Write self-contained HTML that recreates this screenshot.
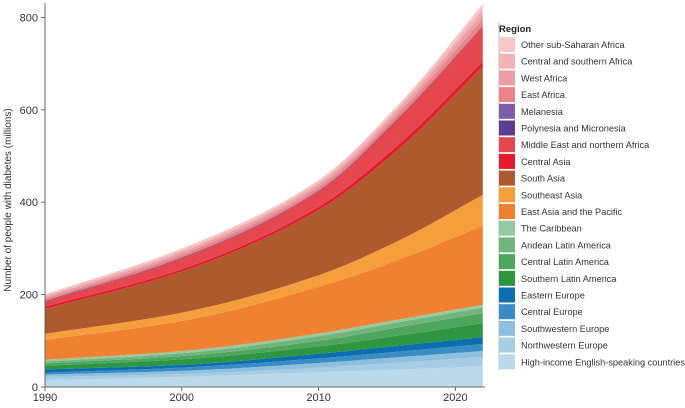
<!DOCTYPE html>
<html><head><meta charset="utf-8"><style>
body{margin:0;background:#fff;font-family:"Liberation Sans",sans-serif;}
svg text{font-family:"Liberation Sans",sans-serif;}
</style></head><body>
<svg id="chart" width="685" height="403" viewBox="0 0 685 403">
<g id="areas"></g>
<g id="axes"></g>
<g id="legend"></g>
</svg>
<script>
const years = [1990, 2000, 2010, 2016, 2022];
const seriesNames = ["High-income English-speaking countries","Northwestern Europe","Southwestern Europe","Central Europe","Eastern Europe","Southern Latin America","Central Latin America","Andean Latin America","The Caribbean","East Asia and the Pacific","Southeast Asia","South Asia","Central Asia","Middle East and northern Africa","Polynesia and Micronesia","Melanesia","East Africa","West Africa","Central and southern Africa","Other sub-Saharan Africa"];
const seriesColors = ["#bcd9ea","#a6cde4","#8ec0de","#3b8cc3","#0b6eaf","#2e9541","#4ea55e","#72b57c","#97c9a0","#f08130","#f59f3c","#ac5a2e","#e31b2c","#e5474f","#5a3d8f","#7b5ea7","#e98488","#ec9fa2","#f1b3b4","#f6c9c9"];
const vHighIncome = [15,22,32,38,45];
const vNWEurope = [7,6,10,15,20];
const vSWEurope = [5,7,10,12,13];
const vCEurope = [4,7,10,12,15];
const vEEurope = [7,6,10,13,15];
const vSLatAm = [8,12,16,22,30];
const vCLatAm = [5,7,12,18,22];
const vAndean = [4,6,10,11,12];
const vCaribbean = [4,5,6,6,6];
const vEastAsia = [43,65,101,130,171];
const vSEAsia = [13,18,25,42,67];
const vSouthAsia = [54,89,141,200,278];
const vCentralAsia = [5,5,7,10,10];
const vMENA = [11,24,34,58,76];
const vPolynesia = [1,1,1,1,1];
const vMelanesia = [1,1,1,1,1];
const vEastAfrica = [4,6,7,9,14];
const vWestAfrica = [4,5,6,8,13];
const vCSAfrica = [3,4,5,6,10];
const vOtherSSA = [3,4,4,5,10];
const seriesValues = [vHighIncome,vNWEurope,vSWEurope,vCEurope,vEEurope,vSLatAm,vCLatAm,vAndean,vCaribbean,vEastAsia,vSEAsia,vSouthAsia,vCentralAsia,vMENA,vPolynesia,vMelanesia,vEastAfrica,vWestAfrica,vCSAfrica,vOtherSSA];
const yTicks = [0,200,400,600,800];
const xTicks = [1990,2000,2010,2020];

const NS="http://www.w3.org/2000/svg";
const x0=45, y0=387;
function xScale(yr){return x0+(yr-1990)*13.68;}
function yScale(v){return y0-v*0.462;}

function monotone(xs, ys){
  const n=xs.length, d=[], m=new Array(n);
  for(let i=0;i<n-1;i++) d.push((ys[i+1]-ys[i])/(xs[i+1]-xs[i]));
  m[0]=d[0]; m[n-1]=d[n-2];
  for(let i=1;i<n-1;i++){ if(d[i-1]*d[i]<=0) m[i]=0; else { const h0=xs[i]-xs[i-1],h1=xs[i+1]-xs[i]; m[i]=3*(h0+h1)/((2*h1+h0)/d[i-1]+(h1+2*h0)/d[i]); } }
  return function(x){
    let i=0; while(i<n-2 && x>xs[i+1]) i++;
    const h=xs[i+1]-xs[i], t=(x-xs[i])/h;
    const h00=2*t*t*t-3*t*t+1,h10=t*t*t-2*t*t+t,h01=-2*t*t*t+3*t*t,h11=t*t*t-t*t;
    return h00*ys[i]+h10*h*m[i]+h01*ys[i+1]+h11*h*m[i+1];
  };
}

const areas=document.getElementById('areas');
let cum=years.map(()=>0);
const samples=[]; for(let y=1990;y<=2022.0001;y+=0.5) samples.push(y);
for(let s=0;s<seriesValues.length;s++){
  const lower=cum.slice();
  const upper=cum.map((c,i)=>c+seriesValues[s][i]);
  const fl=monotone(years,lower), fu=monotone(years,upper);
  let d="";
  samples.forEach((yr,i)=>{d+=(i?"L":"M")+xScale(yr).toFixed(2)+","+yScale(fu(yr)).toFixed(2);});
  for(let i=samples.length-1;i>=0;i--){const yr=samples[i]; d+="L"+xScale(yr).toFixed(2)+","+yScale(fl(yr)).toFixed(2);}
  d+="Z";
  const p=document.createElementNS(NS,'path');
  p.setAttribute('d',d); p.setAttribute('fill',seriesColors[s]);
  
  
  areas.appendChild(p);
  cum=upper;
}

const axes=document.getElementById('axes');
function mk(tag,attrs,text){const e=document.createElementNS(NS,tag);for(const k in attrs)e.setAttribute(k,attrs[k]);if(text!==undefined)e.textContent=text;axes.appendChild(e);return e;}
let e;
e=mk('line',{x1:x0,y1:3,x2:x0,y2:y0,stroke:'#666','stroke-width':1});


e=mk('line',{x1:x0,y1:y0,x2:485,y2:y0,stroke:'#666','stroke-width':1});


yTicks.forEach(v=>{
  const y=yScale(v);
  let t=mk('line',{x1:x0-4,y1:y,x2:x0,y2:y,stroke:'#666'});
  
  
  let l=mk('text',{x:x0-7,y:y+4,'font-size':11,fill:'#333','text-anchor':'end'},String(v));
  
  
});
xTicks.forEach(v=>{
  const x=xScale(v);
  let t=mk('line',{x1:x,y1:y0,x2:x,y2:y0+4,stroke:'#666'});
  
  
  let l=mk('text',{x:x,y:y0+14,'font-size':11,fill:'#333','text-anchor':'middle'},String(v));
  
  
});
e=mk('text',{x:0,y:0,'font-size':10,fill:'#333','text-anchor':'middle',transform:'translate(11,200) rotate(-90)'},'Number of people with diabetes (millions)');



const legend=document.getElementById('legend');
function lk(tag,attrs,text){const el=document.createElementNS(NS,tag);for(const k in attrs)el.setAttribute(k,attrs[k]);if(text!==undefined)el.textContent=text;legend.appendChild(el);return el;}
e=lk('line',{x1:499,y1:22,x2:499,y2:370,stroke:'#bbb','stroke-width':1});


e=lk('text',{x:499,y:32,'font-size':9.5,'font-weight':'bold',fill:'#222'},'Region');


for(let i=0;i<seriesNames.length;i++){
  const s=seriesNames.length-1-i;
  const y=37+i*16.7;
  const r=lk('rect',{x:499,y:y,width:16,height:15,fill:seriesColors[s]});
  
  
  const t=lk('text',{x:521,y:y+11,'font-size':9.2,fill:'#333'},seriesNames[s]);
  
  
}
</script>
</body></html>
